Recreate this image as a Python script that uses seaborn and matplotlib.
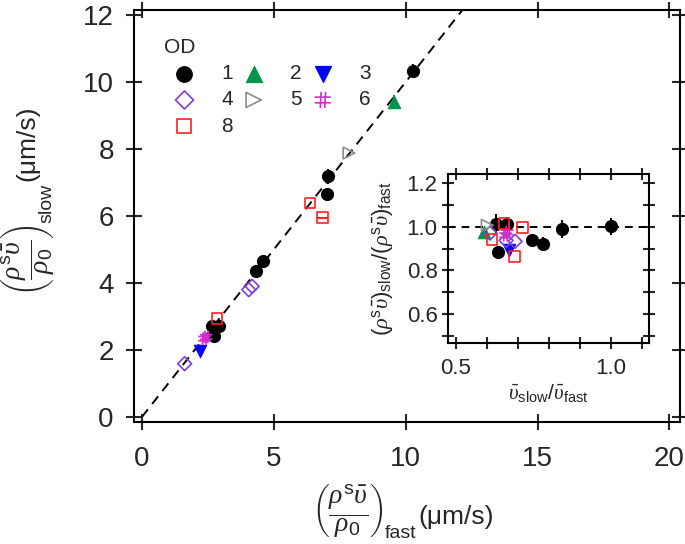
import matplotlib
matplotlib.use("Agg")
import matplotlib.pyplot as plt
import seaborn as sns
import numpy as np
from matplotlib.path import Path
from matplotlib.ticker import MultipleLocator, FormatStrFormatter

# thin "#" marker used for OD 6
hash_path = Path(
    [(-0.3, -1), (-0.2, 1), (0.25, -1), (0.35, 1),
     (-1, -0.35), (1, -0.35), (-1, 0.35), (1, 0.35)],
    [Path.MOVETO, Path.LINETO] * 4,
)

# OD groups and their styles
od_labels = ["1", "2", "3", "4", "5", "6", "8"]
od_colors = ["black", "#00954a", "#0000ff", "#7f3fdf", "#8c8c8c", "#d030c8", "#ff2020"]
od_markers = ["o", "^", "v", "D", ">", hash_path, "s"]
od_filled = [True, True, True, False, False, False, False]
od_sizes = [75, 80, 80, 50, 70, 80, 60]

# main panel: (rho^s vbar / rho0)_fast vs _slow, um/s
fast_x = {
    "1": [10.29, 7.05, 7.03, 4.60, 4.34, 2.66, 2.91, 2.72],
    "2": [9.56],
    "3": [2.19],
    "4": [1.62, 4.05, 4.18],
    "5": [7.85],
    "6": [2.44, 2.37],
    "8": [6.37, 6.84, 2.85],
}
slow_y = {
    "1": [10.33, 7.18, 6.65, 4.66, 4.35, 2.71, 2.71, 2.41],
    "2": [9.40],
    "3": [1.97],
    "4": [1.59, 3.80, 3.90],
    "5": [7.88],
    "6": [2.39, 2.34],
    "8": [6.39, 5.95, 2.94],
}
slow_yerr = {
    "1": [0.22, 0.22, 0.0, 0.0, 0.0, 0.0, 0.0, 0.0],
    "2": [0.22],
    "8": [0.0, 0.0, 0.0],
}
fast_xerr = {
    "8": [0.0, 0.22, 0.0],
}

# inset: vbar_slow/vbar_fast vs ratio of fluxes
ratio_v = {
    "1": [0.629, 0.664, 0.637, 0.747, 0.780, 0.843, 1.000],
    "2": [0.590],
    "3": [0.672],
    "4": [0.610, 0.662, 0.691],
    "5": [0.601],
    "6": [0.660, 0.666],
    "8": [0.616, 0.655, 0.715, 0.690],
}
ratio_flux = {
    "1": [1.014, 1.014, 0.885, 0.940, 0.922, 0.991, 1.003],
    "2": [0.977],
    "3": [0.892],
    "4": [0.972, 0.938, 0.934],
    "5": [1.008],
    "6": [0.962, 0.975],
    "8": [0.942, 1.016, 0.999, 0.864],
}
ratio_flux_err = {
    "1": [0.045, 0.03, 0.0, 0.0, 0.03, 0.04, 0.04],
}

sns.set_theme(style="ticks")
plt.rcParams["font.family"] = ["Liberation Sans", "DejaVu Sans"]
plt.rcParams["mathtext.fontset"] = "custom"
plt.rcParams["mathtext.rm"] = "Liberation Sans"
plt.rcParams["mathtext.sf"] = "Liberation Sans"
plt.rcParams["mathtext.it"] = "Liberation Serif:italic"
plt.rcParams["axes.linewidth"] = 1.5


def draw_groups(axis, xs, ys, yerr, xerr, with_labels):
    for lab, col, mk, filled, sz in zip(od_labels, od_colors, od_markers, od_filled, od_sizes):
        x = xs[lab]
        y = ys[lab]
        if lab in yerr or lab in xerr:
            axis.errorbar(x, y, yerr=yerr.get(lab), xerr=xerr.get(lab),
                          fmt="none", ecolor=col, elinewidth=1.5, zorder=2)
        extra = dict(label=lab) if with_labels else dict(legend=False)
        if filled:
            sns.scatterplot(x=x, y=y, ax=axis, marker=mk, s=sz, color=col,
                            edgecolor=col, linewidth=0.8, zorder=3, **extra)
        else:
            sns.scatterplot(x=x, y=y, ax=axis, marker=mk, s=sz, color=col,
                            facecolor="none", edgecolor=col, linewidth=1.2,
                            zorder=3, **extra)


W, H = 685, 544
fig = plt.figure(figsize=(6.85, 5.44), dpi=100)
ax = fig.add_axes([0.1956, 0.2243, 0.7971, 0.7573])

ax.plot([0, 13], [0, 13], color="black", lw=1.4, ls=(0, (5, 3.5)), zorder=1)
draw_groups(ax, fast_x, slow_y, slow_yerr, fast_xerr, True)

ax.set_xlim(-0.3, 20.4)
ax.set_ylim(-0.15, 12.15)
ax.set_xticks([0, 5, 10, 15, 20])
ax.set_yticks([0, 2, 4, 6, 8, 10, 12])
ax.tick_params(direction="inout", length=11, width=1.5, labelsize=20,
               top=True, right=True)
ax.tick_params(axis="x", pad=12)
ax.tick_params(axis="y", pad=9)
for s in ax.spines.values():
    s.set_visible(True)
    s.set_color("black")

# axis titles: bracketed fraction, subscript under its right edge, then units
frac = r"$\left(\dfrac{\rho^{\mathsf{s}}\bar{\upsilon}}{\rho_0}\right)$"
renderer = fig.canvas.get_renderer()

tx = fig.text(312 / W, 1 - 511 / H, frac, fontsize=20, ha="left", va="center")
bx = tx.get_window_extent(renderer)
sx = fig.text((bx.x1 + 1) / W, (bx.y0 + 2) / H, "fast", fontsize=14,
              ha="left", va="baseline")
sbx = sx.get_window_extent(renderer)
fig.text((sbx.x1 + 2) / W, 1 - 524 / H, "(μm/s)", fontsize=19, ha="left",
         va="baseline")

ty = fig.text(28.5 / W, 1 - 260 / H, frac, fontsize=20, ha="center", va="center",
              rotation=90)
by = ty.get_window_extent(renderer)
sy = fig.text((by.x1 - 2) / W, (by.y1 + 1) / H, "slow", fontsize=14,
              ha="right", va="bottom", rotation=90)
sby = sy.get_window_extent(renderer)
fig.text(27.5 / W, (sby.y1 + 3) / H, "(μm/s)", fontsize=19, ha="center",
         va="bottom", rotation=90)

h, l = ax.get_legend_handles_labels()
hmap = dict(zip(l, h))
order = ["1", "4", "8", "2", "5", "3", "6"]
leg = ax.legend([hmap[o] for o in order], order, ncol=3, title="OD",
                loc="upper left", bbox_to_anchor=(0.02, 0.978), frameon=False,
                fontsize=15, title_fontsize=15, handlelength=2.0,
                handletextpad=0.76, columnspacing=0.0, labelspacing=0.35,
                alignment="left", markerscale=1.3)

# inset
ins = fig.add_axes([0.654, 0.370, 0.2934, 0.310])
ins.axhline(1.0, color="black", lw=1.4, ls=(0, (4, 3)), zorder=1)
draw_groups(ins, ratio_v, ratio_flux, ratio_flux_err, {}, False)

ins.set_xlim(0.474, 1.124)
ins.set_ylim(0.468, 1.243)
ins.xaxis.set_major_locator(MultipleLocator(0.5))
ins.xaxis.set_minor_locator(MultipleLocator(0.1))
ins.yaxis.set_major_locator(MultipleLocator(0.2))
ins.yaxis.set_minor_locator(MultipleLocator(0.1))
ins.xaxis.set_major_formatter(FormatStrFormatter("%.1f"))
ins.yaxis.set_major_formatter(FormatStrFormatter("%.1f"))
ins.tick_params(which="both", direction="inout", length=8, width=1.5,
                labelsize=16, top=True, right=True)
ins.tick_params(axis="x", pad=7)
for s in ins.spines.values():
    s.set_visible(True)
    s.set_color("black")
ins.set_xlabel(r"$\bar{\upsilon}_{\mathsf{slow}}/\bar{\upsilon}_{\mathsf{fast}}$",
               fontsize=15, labelpad=2)
ins.set_ylabel(r"$(\rho^{\mathsf{s}}\bar{\upsilon})_{\mathsf{slow}}/(\rho^{\mathsf{s}}\bar{\upsilon})_{\mathsf{fast}}$",
               fontsize=16, labelpad=8)

fig.savefig("out.png", dpi=100)
